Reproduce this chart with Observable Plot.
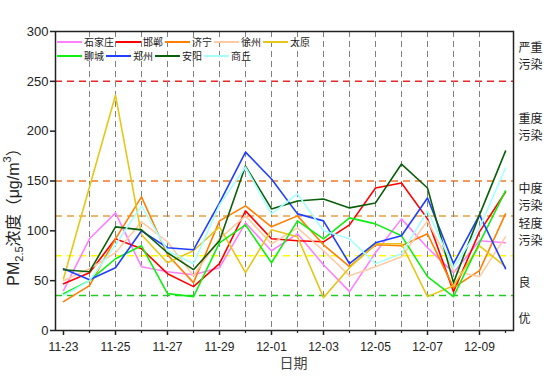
<!DOCTYPE html>
<html>
<head>
<meta charset="utf-8">
<script src="https://cdn.jsdelivr.net/npm/d3@7"></script>
<script src="https://cdn.jsdelivr.net/npm/@observablehq/plot@0.6"></script>
<style>
  body { margin: 0; background: white; }
  #wrap { position: relative; width: 554px; height: 391px; font-family: "Liberation Sans", "Noto Sans CJK SC", sans-serif; }
  #legend { position: absolute; left: 57px; top: 35px; }
  .row { display: flex; align-items: center; height: 14px; }
  .sw { display: inline-block; width: 25px; height: 2px; margin-right: 2px; }
  .lt { font-family: "Noto Sans CJK SC", sans-serif; font-size: 10px; line-height: 10px; color: #222; margin-right: 2px; }
</style>
</head>
<body>
<div id="wrap"><div id="legend"></div></div>
<script>
const dates = ["11-23","11-24","11-25","11-26","11-27","11-28","11-29","11-30","12-01","12-02","12-03","12-04","12-05","12-06","12-07","12-08","12-09","12-10"];
const cities = ["石家庄","邯郸","济宁","徐州","太原","聊城","郑州","安阳","商丘"];
const cityColors = ["#FF80FF","#FF0000","#FF7F00","#FFCBA4","#E6C619","#11EE11","#1F3FFF","#0A5F0A","#A6FFFF"];

const shijiazhuang = [40,92,118,64,59,56,63,108,80,97,66,39,78,112,83,58,90,88];
const handan       = [47,58,92,82,57,44,67,120,92,90,89,106,143,148,112,39,99,139];
const jining       = [29,45,92,134,76,48,110,125,104,115,86,64,86,85,97,43,60,117];
const xuzhou       = [50,62,78,109,89,55,92,115,87,103,80,55,64,74,110,60,54,94];
const taiyuan      = [52,144,236,96,68,80,104,58,101,94,33,63,87,87,34,45,85,64];
const liaocheng    = [37,50,72,85,37,34,88,106,68,110,92,113,107,95,54,34,88,140];
const zhengzhou    = [62,51,63,100,83,81,128,179,152,117,110,67,88,95,133,67,116,62];
const anyang       = [61,59,104,101,78,61,90,165,122,130,132,123,128,167,143,48,116,180];
const shangqiu     = [35,50,86,125,80,67,126,164,117,137,100,92,67,77,120,63,103,163];
const series = [shijiazhuang, handan, jining, xuzhou, taiyuan, liaocheng, zhengzhou, anyang, shangqiu];

const levelValues = [35, 75, 115, 150, 250];
const levelColors = ["#22CC22", "#FFFF00", "#E8A040", "#EE7A2A", "#E82828"];
const levelNames = ["优", "良", "轻度\n污染", "中度\n污染", "重度\n污染", "严重\n污染"];
const levelLabelY = [13, 49, 100, 135, 205, 276];

const yTicks = [0, 50, 100, 150, 200, 250, 300];
const majorDates = dates.filter((d, i) => i % 2 === 0 && i < dates.length - 1);
const minorDates = dates.filter((d, i) => i % 2 === 1 || i === dates.length - 1);

const long = [];
cities.forEach((c, ci) => series[ci].forEach((v, i) => long.push({city: c, date: dates[i], value: v})));
const levelLabels = levelNames.map((n, i) => ({name: n, y: levelLabelY[i]}));

const chart = Plot.plot({
  width: 554, height: 391,
  marginLeft: 55, marginRight: 41, marginTop: 31, marginBottom: 61,
  style: {fontFamily: '"Liberation Sans", "Noto Sans CJK SC", sans-serif', fontSize: "12px", color: "#222", background: "white", overflow: "visible"},
  x: {type: "point", domain: dates, padding: 0, label: null},
  y: {domain: [0, 300], label: null},
  color: {domain: cities, range: cityColors},
  marks: [
    ...levelValues.map((v, i) => Plot.ruleY([v], {stroke: levelColors[i], strokeWidth: 1.5, strokeDasharray: "7,5"})),
    Plot.ruleX(dates.slice(1, -1), {stroke: "#808080", strokeWidth: 1, strokeDasharray: "6,4"}),
    Plot.line(long, {x: "date", y: "value", z: "city", stroke: "city", strokeWidth: 1.6}),
    Plot.frame({stroke: "#222", strokeWidth: 1.5}),
    Plot.axisY({ticks: yTicks, tickSize: 5, tickPadding: 2, fontSize: 13, strokeWidth: 1.5, label: null}),
    Plot.axisX({ticks: majorDates, tickSize: 5, tickPadding: 7, fontSize: 12, strokeWidth: 1.5, label: null}),
    Plot.axisX({ticks: minorDates, tickSize: 3, tickFormat: () => "", strokeWidth: 1.2, label: null}),
    Plot.text(levelLabels, {y: "y", text: "name", frameAnchor: "right", dx: 5, textAnchor: "start", fontSize: 12, lineHeight: 1.42, fill: "#222", fontFamily: '"Noto Sans CJK SC", sans-serif'}),
    Plot.text(["日期"], {frameAnchor: "bottom", dy: 37, dx: 9, fontSize: 14, fill: "#444", fontFamily: '"Noto Sans CJK SC", sans-serif'})
  ]
});

document.getElementById("wrap").prepend(chart);

// y-axis title with subscript / superscript
const svg = d3.select(chart);
const t = svg.append("text")
  .attr("transform", "translate(15,213) rotate(-90)")
  .attr("text-anchor", "middle")
  .attr("dominant-baseline", "middle")
  .attr("font-size", 16)
  .attr("fill", "#222");
t.append("tspan").text("PM");
t.append("tspan").attr("font-size", 11).attr("dy", 5).text("2.5");
t.append("tspan").attr("dy", -5).text("浓度（μg/m");
t.append("tspan").attr("font-size", 11).attr("dy", -7).text("3");
t.append("tspan").attr("dy", 7).text("）");

// legend
const legend = d3.select("#legend");
const rows = [cities.slice(0, 5), cities.slice(5)];
rows.forEach(r => {
  const row = legend.append("div").attr("class", "row");
  r.forEach(c => {
    row.append("span").attr("class", "sw").style("background", cityColors[cities.indexOf(c)]);
    row.append("span").attr("class", "lt").text(c);
  });
});
</script>
</body>
</html>
